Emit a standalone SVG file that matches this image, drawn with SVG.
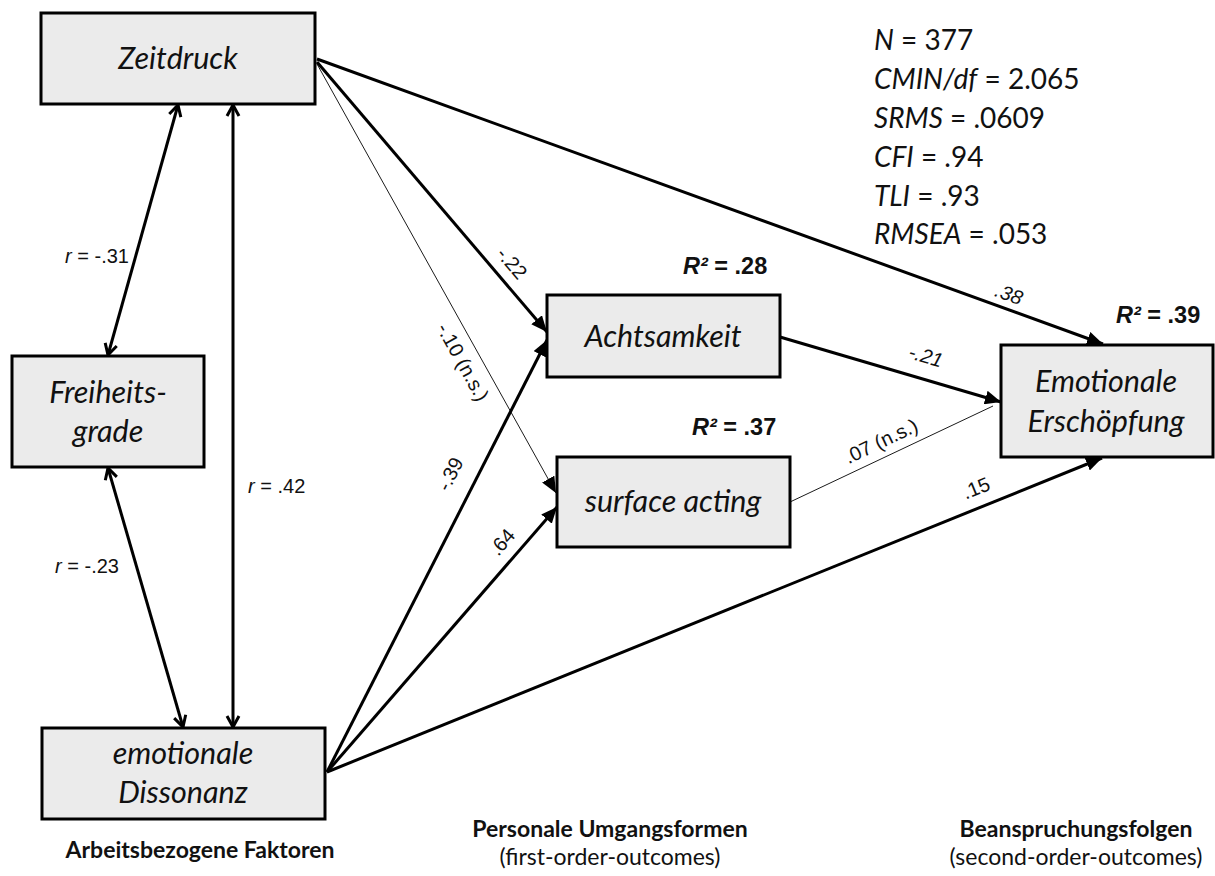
<svg xmlns="http://www.w3.org/2000/svg" width="1215" height="876" viewBox="0 0 1215 876">
<style>
.box{fill:#ebebeb;stroke:#000;stroke-width:3}
.nt{font-family:Lato,"Liberation Sans",sans-serif;font-style:italic;font-size:30.5px;fill:#111;text-anchor:middle}
.thick{stroke:#000;stroke-width:3;fill:none}
.thin{stroke:#000;stroke-width:0.9;fill:none}
.coef{font-family:"Liberation Sans",Arial,sans-serif;font-size:20px;fill:#111;text-anchor:middle}
.rl{font-family:"Liberation Sans",Arial,sans-serif;font-size:20px;fill:#111}
.r2{font-family:"Liberation Sans",Arial,sans-serif;font-size:23.5px;font-weight:bold;fill:#111}
.fit{font-family:Lato,"Liberation Sans",sans-serif;font-size:28px;fill:#111}
.hd{font-family:Lato,"Liberation Sans",sans-serif;font-size:23px;font-weight:bold;fill:#111;text-anchor:middle}
.sub{font-family:Lato,"Liberation Sans",sans-serif;font-size:23px;fill:#111;text-anchor:middle}
</style>
<defs>
<marker id="fa" viewBox="0 0 16 14" refX="16" refY="7" markerWidth="16" markerHeight="14" markerUnits="userSpaceOnUse" orient="auto"><path d="M0,0 L16,7 L0,14 z" fill="#000"/></marker>
<marker id="oa" viewBox="-13 -8 15 16" refX="0" refY="0" markerWidth="15" markerHeight="16" markerUnits="userSpaceOnUse" orient="auto-start-reverse"><path d="M-11,-6 L0,0 L-11,6" fill="none" stroke="#000" stroke-width="3"/></marker>
</defs>
<rect width="1215" height="876" fill="#fff"/>
<g id="connectors">
<line class="thick" x1="178" y1="105" x2="108" y2="355" marker-start="url(#oa)" marker-end="url(#oa)"/>
<line class="thick" x1="233" y1="105" x2="233" y2="727" marker-start="url(#oa)" marker-end="url(#oa)"/>
<line class="thick" x1="108" y1="468" x2="183" y2="727" marker-start="url(#oa)" marker-end="url(#oa)"/>
<line class="thick" x1="317" y1="59" x2="1103" y2="344" marker-end="url(#fa)"/>
<line class="thick" x1="317" y1="62" x2="547" y2="332" marker-end="url(#fa)"/>
<line class="thin" x1="317" y1="64" x2="556" y2="493" marker-end="url(#fa)"/>
<line class="thick" x1="327" y1="772" x2="547" y2="340" marker-end="url(#fa)"/>
<line class="thick" x1="327" y1="772" x2="557" y2="507" marker-end="url(#fa)"/>
<line class="thick" x1="327" y1="772" x2="1102" y2="458" marker-end="url(#fa)"/>
<line class="thick" x1="780" y1="337" x2="1001" y2="402" marker-end="url(#fa)"/>
<line class="thin" x1="790" y1="502" x2="993" y2="406"/>
<text class="rl" x="65" y="263"><tspan font-style="italic">r</tspan> = -.31</text>
<text class="rl" x="248" y="493"><tspan font-style="italic">r</tspan> = .42</text>
<text class="rl" x="55" y="573"><tspan font-style="italic">r</tspan> = -.23</text>
<text class="coef" x="512" y="270" transform="rotate(49.5 512 263)">-.22</text>
<text class="coef" x="463" y="369" transform="rotate(61 463 362)">-.10 (n.s.)</text>
<text class="coef" x="450" y="481" transform="rotate(-63 450 474)">-.39</text>
<text class="coef" x="502" y="549" transform="rotate(-49 502 542)">.64</text>
<text class="coef" x="926" y="363" font-style="italic" transform="rotate(16.5 926 356)">-.21</text>
<text class="coef" x="881" y="448" transform="rotate(-25.5 881 441)">.07 (n.s.)</text>
<text class="coef" x="976" y="495" transform="rotate(-22 976 488)">.15</text>
<text class="coef" x="1009" y="301" font-style="italic" transform="rotate(20 1009 294)">.38</text>
</g>
<g id="zeitdruck"><rect class="box" x="41" y="13" width="274" height="91"/><text class="nt" x="178" y="69">Zeitdruck</text></g>
<g id="freiheitsgrade"><rect class="box" x="12" y="356" width="192" height="111"/><text class="nt" x="108" y="403">Freiheits-</text><text class="nt" x="108" y="442">grade</text></g>
<g id="dissonanz"><rect class="box" x="42" y="728" width="283" height="91"/><text class="nt" x="183" y="764">emotionale</text><text class="nt" x="183" y="803">Dissonanz</text></g>
<g id="achtsamkeit"><rect class="box" x="547" y="295" width="233" height="82"/><text class="nt" x="663" y="347">Achtsamkeit</text></g>
<g id="surface"><rect class="box" x="557" y="457" width="233" height="90"/><text class="nt" x="673" y="512">surface acting</text></g>
<g id="erschoepfung"><rect class="box" x="1001" y="345" width="212" height="112"/><text class="nt" x="1106" y="392">Emotionale</text><text class="nt" x="1106" y="432">Erschöpfung</text></g>
<g id="r2labels">
<text class="r2" x="683" y="274"><tspan font-style="italic">R²</tspan> = .28</text>
<text class="r2" x="692" y="435"><tspan font-style="italic">R²</tspan> = .37</text>
<text class="r2" x="1116" y="323"><tspan font-style="italic">R²</tspan> = .39</text>
</g>
<g id="fitstats">
<text class="fit" x="874" y="50"><tspan font-style="italic">N</tspan> = 377</text>
<text class="fit" x="874" y="89"><tspan font-style="italic">CMIN/df</tspan> = 2.065</text>
<text class="fit" x="874" y="128"><tspan font-style="italic">SRMS</tspan> = .0609</text>
<text class="fit" x="874" y="167"><tspan font-style="italic">CFI</tspan> = .94</text>
<text class="fit" x="874" y="206"><tspan font-style="italic">TLI</tspan> = .93</text>
<text class="fit" x="874" y="244"><tspan font-style="italic">RMSEA</tspan> = .053</text>
</g>
<g id="headings">
<text class="hd" x="200" y="858">Arbeitsbezogene Faktoren</text>
<text class="hd" x="610" y="837">Personale Umgangsformen</text>
<text class="sub" x="610" y="865">(first-order-outcomes)</text>
<text class="hd" x="1076" y="837">Beanspruchungsfolgen</text>
<text class="sub" x="1076" y="865">(second-order-outcomes)</text>
</g>
</svg>
